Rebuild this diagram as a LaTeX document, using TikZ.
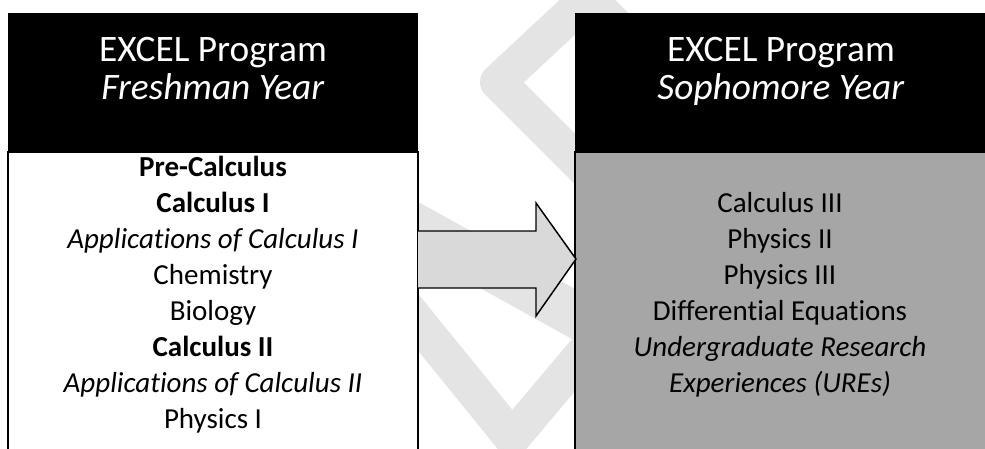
\documentclass[tikz,border=0pt]{standalone}
\usepackage{fontspec}
\setmainfont[Ligatures=NoCommon]{Carlito}
\usetikzlibrary{positioning}
\definecolor{soph-gray}{HTML}{A6A6A6}
\definecolor{arrow-gray}{HTML}{D9D9D9}
\definecolor{mark-gray}{HTML}{E4E4E4}

\begin{document}
\begin{tikzpicture}[x=0.75pt,y=-0.75pt,
	headbox/.style={fill=black,minimum width=307.5pt,minimum height=104.25pt,inner sep=0pt},
	headtext/.style={text=white,align=center,anchor=north,inner sep=0pt,font=\fontsize{28}{28.5}\selectfont},
	courses/.style={align=center,font=\fontsize{21.75}{27}\selectfont},
	band/.style={mark-gray,line join=round,line cap=round}]
	\useasboundingbox (0,0) rectangle (985,449);
	\clip (0,0) rectangle (985,449);

	% watermark
	\draw[band,line width=27pt] (680,90) -- (588,-2) -- (498,82) -- (640,224);
	\draw[band,line width=34pt] (370,201) -- (660,362);
	\draw[band,line width=27pt] (400,300) -- (512,438) -- (620,310);

	% freshman year
	\node[headbox] (freshhead) at (213,82.5) {};
	\node[headtext] (freshtitle) at (213,37) {EXCEL Program\\\textit{Freshman Year}};
	\draw[fill=white,line width=1.1pt] (8,152) rectangle (418,470);
	\node[courses] (freshlist) at (213,295) {\textbf{Pre-Calculus}\\\textbf{Calculus I}\\\textit{Applications of Calculus I}\\Chemistry\\Biology\\\textbf{Calculus II}\\\textit{Applications of Calculus II}\\Physics I};

	% sophomore year
	\node[headbox] (sophhead) at (780,82.5) {};
	\node[headtext] (sophtitle) at (781,37) {EXCEL Program\\\textit{Sophomore Year}};
	\draw[fill=soph-gray,line width=1.1pt] (575,152) rectangle (990,470);
	\node[courses] (sophlist) at (780,294.5) {Calculus III\\Physics II\\Physics III\\Differential Equations\\\textit{Undergraduate Research}\\\textit{Experiences (UREs)}};

	% arrow
	\draw[fill=arrow-gray,line width=1.1pt,line join=miter] (418,231) -- (536,231) -- (536,203) -- (576,259) -- (536,316) -- (536,288) -- (418,288);
\end{tikzpicture}
\end{document}
